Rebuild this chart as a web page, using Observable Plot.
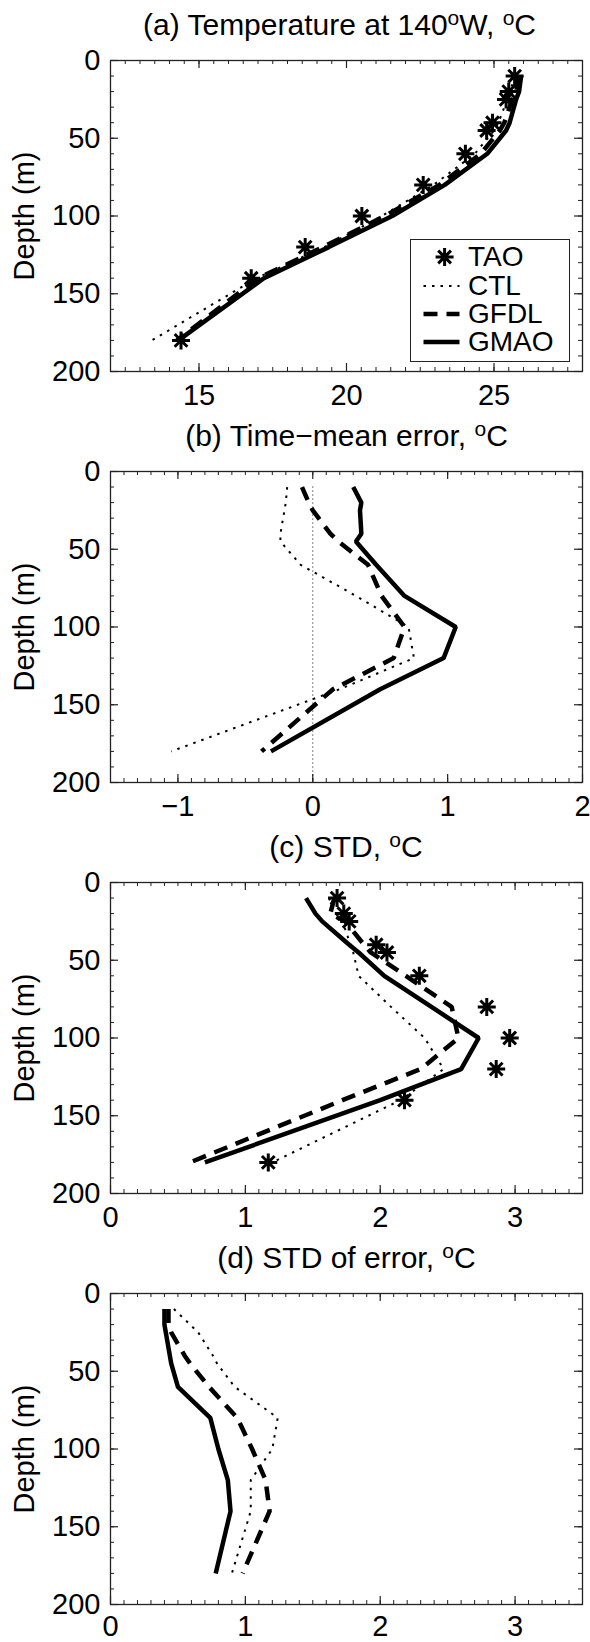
<!DOCTYPE html>
<html>
<head>
<meta charset="utf-8">
<script src="https://cdn.jsdelivr.net/npm/d3@7"></script>
<script src="https://cdn.jsdelivr.net/npm/@observablehq/plot@0.6"></script>
<style>
  html, body { margin: 0; padding: 0; background: #fff; }
  body { font-family: "Liberation Sans", Arial, Helvetica, sans-serif; color: #000; }
  #page { position: relative; width: 590px; height: 1642px; overflow: hidden; }
  .block { position: absolute; left: 0; width: 590px; }
  .titlebox { position: relative; width: 590px; height: 45px; overflow: visible; }
  .title { position: absolute; top: 10.3px; left: 0; text-align: center; white-space: nowrap; font-size: 30px; line-height: 30px; }
  .title sup { font-size: 0.7em; line-height: 0; vertical-align: 0.5em; }
  .legend { position: absolute; left: 410px; top: 238.5px; width: 159.5px; height: 123px; box-sizing: border-box; border: 1.3px solid #222; background: #fff; }
  .legend .row { position: absolute; left: 0; height: 28px; width: 158px; line-height: 28px; font-size: 28px; }
  .legend .row svg { position: absolute; left: 0; top: 0; }
  .legend .row span { position: absolute; left: 57px; top: 0; white-space: nowrap; }
  svg { display: block; }
</style>
</head>
<body>
<div id="page"></div>
<script>
// ---- data (depths of the TAO levels, m) ----
const depth = [10, 20, 25, 40, 45, 60, 80, 100, 120, 140, 180];

// (a) temperature, degC
const taoTemp  = [25.70, 25.50, 25.41, 24.95, 24.75, 24.03, 22.60, 20.52, 18.60, 16.77, 14.39];
const ctlTemp  = [25.70, 25.55, 25.45, 25.15, 25.00, 24.35, 22.95, 21.20, 19.25, 16.95, 13.40];
const gfdlTemp = [25.85, 25.75, 25.62, 25.35, 25.20, 24.55, 23.15, 21.30, 19.20, 17.00, 14.25];
const gmaoTemp = [25.92, 25.85, 25.75, 25.53, 25.41, 24.77, 23.33, 21.55, 19.40, 17.20, 14.30];

// (b) time-mean error, degC
const ctlErr  = [-0.19, -0.20, -0.21, -0.24, -0.24, -0.09, 0.32, 0.71, 0.75, 0.20, -1.05];
const gfdlErr = [-0.08, -0.03, 0.00, 0.13, 0.19, 0.41, 0.51, 0.68, 0.60, 0.15, -0.38];
const gmaoErr = [0.30, 0.36, 0.35, 0.36, 0.32, 0.47, 0.68, 1.06, 0.97, 0.50, -0.31];

// (c) STD, degC
const taoStd  = [1.68, 1.73, 1.77, 1.97, 2.05, 2.29, 2.79, 2.96, 2.86, 2.18, 1.17];
const ctlStd  = [1.62, 1.67, 1.72, 1.78, 1.80, 1.84, 2.08, 2.33, 2.47, 2.15, 1.20];
const gfdlStd = [1.66, 1.63, 1.74, 1.88, 1.93, 2.19, 2.53, 2.58, 2.30, 1.72, 0.59];
const gmaoStd = [1.45, 1.52, 1.57, 1.77, 1.84, 2.03, 2.38, 2.73, 2.60, 2.00, 0.70];

// (d) STD of error, degC
const ctlErrStd  = [0.47, 0.59, 0.65, 0.76, 0.79, 0.92, 1.24, 1.20, 1.04, 1.04, 0.90];
const gfdlErrStd = [0.43, 0.43, 0.45, 0.55, 0.59, 0.73, 0.94, 1.05, 1.15, 1.18, 0.98];
const gmaoErrStd = [0.40, 0.40, 0.41, 0.44, 0.45, 0.50, 0.74, 0.80, 0.87, 0.89, 0.78];

// ---- axes / labels ----
const titles = [
  "(a) Temperature at 140<sup>o</sup>W, <sup>o</sup>C",
  "(b) Time\u2212mean error, <sup>o</sup>C",
  "(c) STD, <sup>o</sup>C",
  "(d) STD of error, <sup>o</sup>C"
];
const titleCenters = [339.5, 346.5, 346, 346.5];
const xDomains = [[12, 28], [-1.5, 2], [0, 3.5], [0, 3.5]];
const xTickValues = [[15, 20, 25], [-1, 0, 1, 2], [0, 1, 2, 3], [0, 1, 2, 3]];
const xMinorSteps = [0.5, 0.1, 0.1, 0.1];
const yDomain = [0, 200];
const yTickValues = [0, 50, 100, 150, 200];
const yMinorStep = 10;
const yLabel = "Depth (m)";
const seriesNames = ["TAO", "CTL", "GFDL", "GMAO"];

// ---- build ----
const FRAME_H = 311, FRAME_W = 472;
const MAJOR = 8, MINOR = 4;
const FONT = 29;
const axisColor = "#222";

const star8 = {
  draw(context, size) {
    const r = Math.sqrt(size / Math.PI);
    const d = r * Math.SQRT1_2;
    context.moveTo(-r, 0); context.lineTo(r, 0);
    context.moveTo(0, -r); context.lineTo(0, r);
    context.moveTo(-d, -d); context.lineTo(d, d);
    context.moveTo(-d, d); context.lineTo(d, -d);
  }
};

const panelSeries = [
  {tao: taoTemp, ctl: ctlTemp, gfdl: gfdlTemp, gmao: gmaoTemp},
  {tao: null, ctl: ctlErr, gfdl: gfdlErr, gmao: gmaoErr},
  {tao: taoStd, ctl: ctlStd, gfdl: gfdlStd, gmao: gmaoStd},
  {tao: null, ctl: ctlErrStd, gfdl: gfdlErrStd, gmao: gmaoErrStd}
];

const fmt = d => String(d).replace("-", "\u2212");
const toRows = vals => vals.map((v, i) => ({x: v, y: depth[i]}));

const page = document.getElementById("page");

panelSeries.forEach((s, i) => {
  const block = document.createElement("div");
  block.className = "block";
  block.style.top = (411 * i) + "px";
  const tb = document.createElement("div");
  tb.className = "titlebox";
  const t = document.createElement("div");
  t.className = "title";
  t.style.width = (2 * titleCenters[i]) + "px";
  t.innerHTML = titles[i];
  tb.appendChild(t);
  block.appendChild(tb);

  const H = i === 3 ? 364 : 366;
  const [x0, x1] = xDomains[i];
  const minorX = d3.range(x0, x1 + 1e-9, xMinorSteps[i]).map(v => Math.round(v * 100) / 100);
  const minorY = d3.range(yDomain[0], yDomain[1] + 1e-9, yMinorStep);

  const marks = [
    Plot.tickX(minorX, {x: d => d, insetBottom: FRAME_H - MINOR, stroke: axisColor, strokeWidth: 1}),
    Plot.tickX(minorX, {x: d => d, insetTop: FRAME_H - MINOR, stroke: axisColor, strokeWidth: 1}),
    Plot.tickY(minorY, {y: d => d, insetRight: FRAME_W - MINOR, stroke: axisColor, strokeWidth: 1}),
    Plot.tickY(minorY, {y: d => d, insetLeft: FRAME_W - MINOR, stroke: axisColor, strokeWidth: 1}),
    Plot.tickX(xTickValues[i], {x: d => d, insetBottom: FRAME_H - MAJOR, stroke: axisColor, strokeWidth: 1.2}),
    Plot.tickX(xTickValues[i], {x: d => d, insetTop: FRAME_H - MAJOR, stroke: axisColor, strokeWidth: 1.2}),
    Plot.tickY(yTickValues, {y: d => d, insetRight: FRAME_W - MAJOR, stroke: axisColor, strokeWidth: 1.2}),
    Plot.tickY(yTickValues, {y: d => d, insetLeft: FRAME_W - MAJOR, stroke: axisColor, strokeWidth: 1.2}),
    Plot.frame({stroke: axisColor, strokeWidth: 1.3})
  ];
  if (i === 1) {
    marks.push(Plot.ruleX([0], {y1: depth[0], y2: yDomain[1], stroke: "#000", strokeWidth: 1, strokeDasharray: "1,3"}));
  }
  marks.push(
    Plot.line(toRows(s.ctl), {x: "x", y: "y", stroke: "#000", strokeWidth: 2, strokeDasharray: "2.5,6", strokeLinecap: "butt"}),
    Plot.line(toRows(s.gfdl), {x: "x", y: "y", stroke: "#000", strokeWidth: 4.5, strokeDasharray: "14,9", strokeLinecap: "butt", strokeLinejoin: "miter"}),
    Plot.line(toRows(s.gmao), {x: "x", y: "y", stroke: "#000", strokeWidth: 4.5, strokeLinejoin: "miter", strokeLinecap: "butt"})
  );
  if (s.tao) {
    marks.push(Plot.dot(toRows(s.tao), {x: "x", y: "y", symbol: star8, r: 9, stroke: "#000", strokeWidth: 3, fill: "none"}));
  }
  marks.push(
    Plot.text(xTickValues[i], {x: d => d, frameAnchor: "bottom", lineAnchor: "top", dy: i === 3 ? 11 : 13, text: fmt, fontSize: FONT, fill: "#000"}),
    Plot.text(yTickValues, {y: d => d, frameAnchor: "left", textAnchor: "end", dx: -10, text: fmt, fontSize: FONT, fill: "#000"}),
    Plot.text([yLabel], {frameAnchor: "left", textAnchor: "middle", rotate: -90, dx: -86, lineAnchor: "middle", text: d => d, fontSize: FONT, fill: "#000"})
  );

  const chart = Plot.plot({
    width: 590,
    height: H,
    marginLeft: 110,
    marginRight: 8,
    marginTop: 15,
    marginBottom: H - 15 - FRAME_H,
    x: {domain: xDomains[i], axis: null},
    y: {domain: yDomain, reverse: true, axis: null},
    style: {fontFamily: "'Liberation Sans', Arial, Helvetica, sans-serif", fontSize: FONT + "px", background: "#fff", overflow: "visible"},
    marks
  });
  block.appendChild(chart);
  page.appendChild(block);

  if (i === 0) {
    const lg = document.createElement("div");
    lg.className = "legend";
    const rowTops = [3.7, 32, 60.3, 88.7];
    seriesNames.forEach((name, k) => {
      const row = document.createElement("div");
      row.className = "row";
      row.style.top = rowTops[k] + "px";
      const sv = d3.create("svg").attr("width", 56).attr("height", 28);
      if (name === "TAO") {
        sv.append("path").attr("d", d3.symbol(star8, 81 * Math.PI)()).attr("transform", "translate(33.6,14)")
          .attr("fill", "none").attr("stroke", "#000").attr("stroke-width", 3);
      } else {
        const ln = sv.append("line").attr("x1", 12.5).attr("x2", 48.5).attr("y1", 14).attr("y2", 14).attr("stroke", "#000");
        if (name === "CTL") ln.attr("stroke-width", 2).attr("stroke-dasharray", "2.5,6");
        if (name === "GFDL") ln.attr("stroke-width", 4.5).attr("stroke-dasharray", "14,9");
        if (name === "GMAO") ln.attr("stroke-width", 4.5);
      }
      row.appendChild(sv.node());
      const sp = document.createElement("span");
      sp.textContent = name;
      row.appendChild(sp);
      lg.appendChild(row);
    });
    block.appendChild(lg);
  }
});
</script>
</body>
</html>
